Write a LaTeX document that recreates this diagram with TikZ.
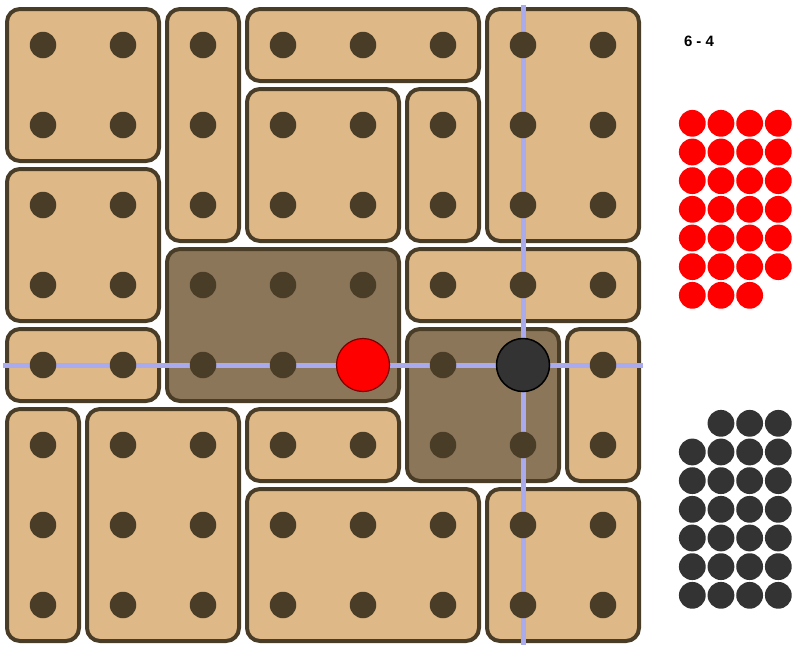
\documentclass[tikz,border=0pt]{standalone}
\usepackage{fontspec}
\setmainfont{Liberation Sans}
\definecolor{tan}{HTML}{DEB887}
\definecolor{darktan}{HTML}{8C7659}
\definecolor{edge}{HTML}{4A3D27}
\definecolor{blueline}{HTML}{AAAAEE}
\definecolor{ink}{HTML}{333333}
\begin{document}
\begin{tikzpicture}[x=1pt,y=-1pt,
  tile/.style={fill=tan,draw=edge,line width=4pt,rounded corners=13pt},
  darktile/.style={fill=darktan,draw=edge,line width=4pt,rounded corners=13pt},
  hole/.style={circle,fill=edge,inner sep=0pt,minimum size=26.5pt},
  rchip/.style={circle,fill=red,inner sep=0pt,minimum size=26.8pt},
  bchip/.style={circle,fill=ink,inner sep=0pt,minimum size=26.8pt},
  guide/.style={draw=blueline,line width=5pt}]
\useasboundingbox (0,0) rectangle (803,667);
% tiles: {col0,row0,col1,row1,style}
\foreach \a/\b/\c/\d/\s in {0/0/1/1/tile,2/0/2/2/tile,3/0/5/0/tile,6/0/7/2/tile,
  0/2/1/3/tile,3/1/4/2/tile,5/1/5/2/tile,2/3/4/4/darktile,5/3/7/3/tile,
  0/4/1/4/tile,5/4/6/5/darktile,7/4/7/5/tile,0/5/0/7/tile,1/5/2/7/tile,
  3/5/4/5/tile,3/6/5/7/tile,6/6/7/7/tile}{
  \path[\s] ({3+80*\a+4},{5+80*\b+4}) rectangle ({3+80*(\c+1)-4},{5+80*(\d+1)-4});
}
% guide lines
\coordinate (hl) at (3,365);
\coordinate (hr) at (643,365);
\coordinate (vt) at (523,5);
\coordinate (vb) at (523,645);
\draw[guide] (hl) -- (hr);
\draw[guide] (vt) -- (vb);
% holes
\foreach \i in {0,...,7}{
  \foreach \j in {0,...,7}{
    \node[hole] (h\i\j) at ({43+80*\i},{45+80*\j}) {};
  }
}
% pieces
\node[circle,fill=red,draw={rgb,255:red,120;green,0;blue,0},line width=1.2pt,inner sep=0pt,minimum size=53pt] (red) at (363,365) {};
\node[circle,fill=ink,draw=black,line width=1.5pt,inner sep=0pt,minimum size=53pt] (blk) at (523,365) {};
% score
\node[font=\bfseries\fontsize{15pt}{17pt}\selectfont] (score) at (699,41) {6 - 4};
% red stock
\foreach \n in {0,...,26}{
  \pgfmathtruncatemacro{\r}{int(\n/4)}
  \pgfmathtruncatemacro{\c}{mod(\n,4)}
  \node[rchip] (r\n) at ({692.3+28.67*\c},{123.3+28.67*\r}) {};
}
% black stock
\foreach \n in {1,...,27}{
  \pgfmathtruncatemacro{\r}{int(\n/4)}
  \pgfmathtruncatemacro{\c}{mod(\n,4)}
  \node[bchip] (b\n) at ({692.3+28.67*\c},{423.3+28.67*\r}) {};
}
\end{tikzpicture}
\end{document}
